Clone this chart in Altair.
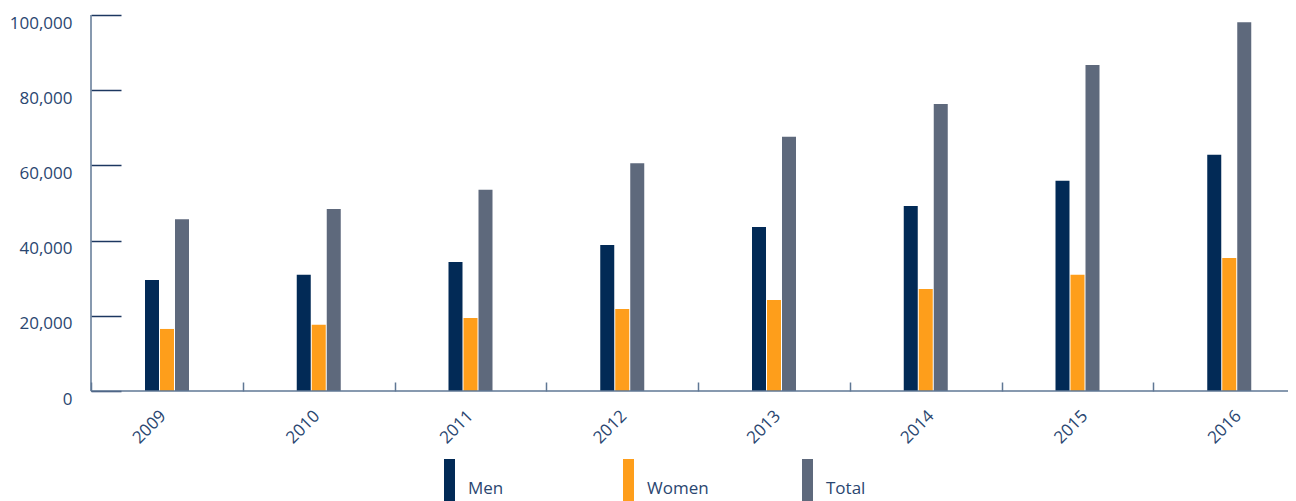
import altair as alt
import pandas as pd

years = ["2009", "2010", "2011", "2012", "2013", "2014", "2015", "2016"]
men = [29500, 30900, 34300, 38800, 43600, 49200, 55900, 62800]
women = [16500, 17600, 19400, 21800, 24200, 27100, 30900, 35400]
total = [45700, 48400, 53500, 60600, 67600, 76300, 86700, 98100]
series = ["Men", "Women", "Total"]
colors = ["#022a56", "#fe9e1b", "#5e697c"]

rows = []
for i, y in enumerate(years):
    for s, vals in zip(series, [men, women, total]):
        rows.append({"year": y, "series": s, "value": vals[i]})
df = pd.DataFrame(rows)

FONT = "Open Sans"
TXT = "#2a4670"
DOMAIN = "#5f7794"
TICK = "#1c3760"

x_enc = alt.X(
    "year:N",
    sort=years,
    title=None,
    scale=alt.Scale(paddingInner=0, paddingOuter=0, range=[0, 1214]),
    axis=alt.Axis(
        domain=False,
        tickBand="extent",
        tickSize=9,
        tickWidth=1.5,
        tickColor=DOMAIN,
        offset=-9,
        labelAngle=-45,
        labelAlign="right",
        labelBaseline="middle",
        labelPadding=22,
        labelFont=FONT,
        labelFontSize=17,
        labelColor=TXT,
        labelOffset=alt.ExprRef(expr="-4 + 13*datum.index"),
    ),
)

y_enc = alt.Y(
    "value:Q",
    title=None,
    scale=alt.Scale(domain=[0, 100000], nice=False),
    axis=alt.Axis(
        values=[0, 20000, 40000, 60000, 80000, 100000],
        format=",.0f",
        domain=False,
        grid=False,
        offset=-30,
        tickSize=30,
        tickWidth=1.5,
        tickColor=TICK,
        labelBaseline="top",
        labelPadding=19,
        labelFont=FONT,
        labelFontSize=17,
        labelColor=TXT,
    ),
)

bars = alt.Chart(df).mark_bar().encode(
    x=x_enc,
    xOffset=alt.XOffset(
        "series:N",
        sort=series,
        scale=alt.Scale(paddingInner=1 / 15, paddingOuter=1 / 30, range=[53.5, 98.5]),
    ),
    y=y_enc,
    color=alt.Color(
        "series:N",
        sort=series,
        scale=alt.Scale(domain=series, range=colors),
        legend=alt.Legend(
            title=None,
            orient="none",
            legendX=320,
            legendY=444,
            direction="horizontal",
            columns=3,
            gridAlign="all",
            columnPadding=60,
            padding=0,
            symbolType="M0.5,-1H1V1H0.5Z",
            symbolSize=1936,
            symbolStrokeWidth=0,
            symbolOpacity=1,
            labelOffset=13,
            labelBaseline="top",
            labelFont=FONT,
            labelFontSize=17,
            labelColor=TXT,
        ),
    ),
)

base_df = pd.DataFrame({"v": [0]})
baseline = alt.Chart(base_df).mark_rule(color=DOMAIN, strokeWidth=1.5).encode(
    y=alt.datum(0, type="quantitative")
)
yline = alt.Chart(base_df).mark_rule(color=DOMAIN, strokeWidth=1.5).encode(
    x=alt.value(0),
    y=alt.datum(0, type="quantitative"),
    y2=alt.datum(100000),
)

chart = (
    alt.layer(bars, baseline, yline)
    .properties(
        width=1197,
        height=376,
        autosize=alt.AutoSizeParams(type="none"),
        padding={"left": 83, "top": 7, "right": 0, "bottom": 110},
    )
    .configure_view(stroke=None)
)

chart.save("out.html", embed_options={"renderer": "svg", "actions": False})
